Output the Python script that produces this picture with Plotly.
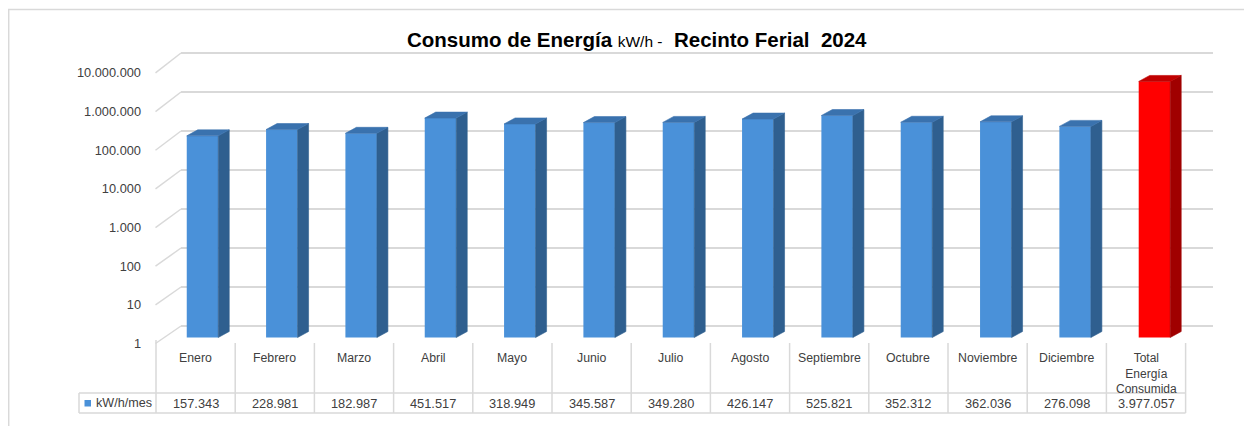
import plotly.graph_objects as go

# ---------------- data ----------------
categories = ["Enero", "Febrero", "Marzo", "Abril", "Mayo", "Junio", "Julio",
              "Agosto", "Septiembre", "Octubre", "Noviembre", "Diciembre",
              "Total Energía Consumida"]
values = [157343, 228981, 182987, 451517, 318949, 345587, 349280,
          426147, 525821, 352312, 362036, 276098, 3977057]
series_name = "kW/h/mes"
tick_values = [1, 10, 100, 1000, 10000, 100000, 1000000, 10000000]
title_main = "Consumo de Energía"
title_unit = "kW/h -"
title_rest = "Recinto Ferial\u00a0 2024"

# ---------------- styling / layout helpers ----------------
OFF = 8                       # page body margin
W, H = 1252 - OFF, 426 - OFF  # figure size
FONT = "Liberation Sans, Arial, sans-serif"
TXT = "#404040"
GRID = "#D9D9D9"
BLUE = dict(front="#4A91D9", side="#2F5F8F", top="#3A72AE")
RED = dict(front="#FF0000", side="#A00000", top="#C00000")


def fx(p):
    return (p - OFF) / W


def fy(p):
    return 1 - (p - OFF) / H


def fmt(v):
    return f"{v:,}".replace(",", ".")


PT, PB = 48, 346                 # plot area top / bottom (screen px)
BACK_B, BACK_S = 326.0, 39.0     # back wall: pixel of value 1, px per decade
BAR_B, BAR_S = 337.5, 38.8       # bar plane
FRONT_B, FRONT_S = 343.5, 38.65  # front plane (labels)
BAR0, STEP = 202.5, 79.33        # centre of first bar front, spacing
X2L, X2R = 100, 1240
BAR_W = 31.5 / STEP
DX = 11 / STEP
K = 10 ** (6.0 / BAR_S)

n = len(categories)
idx = list(range(n))
palettes = [BLUE] * (n - 1) + [RED]

fig = go.Figure()

# grid subplot (back wall) -> invisible anchor trace
fig.add_trace(go.Scatter(x=[0.5], y=[1], xaxis="x", yaxis="y", mode="markers",
                         marker=dict(opacity=0), hoverinfo="skip", showlegend=False))

# bars (front faces)
fig.add_trace(go.Bar(x=idx, y=values, base=[1] * n, width=BAR_W,
                     marker=dict(color=[p["front"] for p in palettes], line=dict(width=0)),
                     customdata=categories, hovertemplate="%{customdata}: %{y:,}<extra></extra>",
                     xaxis="x2", yaxis="y2", showlegend=False))

# 3D side and top faces computed from the data
for part in ("side", "top"):
    for pal in (BLUE, RED):
        xs, ys = [], []
        for i, v in enumerate(values):
            if palettes[i] is not pal:
                continue
            xl, xr = i - BAR_W / 2, i + BAR_W / 2
            if part == "side":
                xs += [xr, xr + DX, xr + DX, xr, xr, None]
                ys += [1, K, v * K, v, 1, None]
            else:
                xs += [xl, xl + DX, xr + DX, xr, xl, None]
                ys += [v, v * K, v * K, v, v, None]
        fig.add_trace(go.Scatter(x=xs, y=ys, mode="lines", fill="toself",
                                 fillcolor=pal[part], line=dict(color=pal[part], width=0.6),
                                 hoverinfo="skip", showlegend=False,
                                 xaxis="x2", yaxis="y2"))

# front label axis anchor trace
fig.add_trace(go.Scatter(x=[0], y=[1], xaxis="x2", yaxis="y3", mode="markers",
                         marker=dict(opacity=0), hoverinfo="skip", showlegend=False))


def rng(b, s):
    return [(b - PB) / s, (b - PT) / s]


ydom = [fy(PB), fy(PT)]
hidden_x = dict(showgrid=False, zeroline=False, showticklabels=False, showline=False, ticks="")

fig.update_layout(
    width=W, height=H,
    margin=dict(l=0, r=0, t=0, b=0, autoexpand=False),
    paper_bgcolor="white", plot_bgcolor="rgba(0,0,0,0)",
    showlegend=False,
    xaxis=dict(domain=[fx(181), fx(1213)], range=[0, 1], anchor="y", **hidden_x),
    yaxis=dict(domain=ydom, type="log", range=rng(BACK_B, BACK_S), anchor="x",
               tickvals=tick_values, showticklabels=False, showgrid=True,
               gridcolor=GRID, gridwidth=1.5, zeroline=False, showline=False, ticks=""),
    xaxis2=dict(domain=[fx(X2L), fx(X2R)],
                range=[(X2L - BAR0) / STEP, (X2R - BAR0) / STEP], anchor="y2", **hidden_x),
    yaxis2=dict(domain=ydom, type="log", range=rng(BAR_B, BAR_S), anchor="x2",
                showgrid=False, zeroline=False, showticklabels=False, showline=False, ticks=""),
    yaxis3=dict(type="log", range=rng(FRONT_B, FRONT_S), overlaying="y2", anchor="free",
                position=fx(141), side="left", tickvals=tick_values,
                ticktext=[fmt(v) for v in tick_values], showgrid=False, zeroline=False,
                showline=False, ticks="", tickfont=dict(family=FONT, size=12.8, color=TXT)),
)

shapes = []
# outer border
shapes.append(dict(type="rect", xref="paper", yref="paper", x0=fx(8.7), x1=fx(1250.3),
                   y0=fy(440), y1=fy(9.5), line=dict(color=GRID, width=1.5), layer="below"))
# left diagonal depth lines for each decade
for k in range(len(tick_values)):
    yf = FRONT_B - FRONT_S * k
    yb = BACK_B - BACK_S * k
    shapes.append(dict(type="line", xref="paper", yref="paper", x0=fx(155.5), y0=fy(yf),
                       x1=fx(181), y1=fy(yb), line=dict(color=GRID, width=1.5), layer="below"))

# data table
COL0, COLW = 156, 79.2
TAB_L, ROW_TOP, ROW_MID, ROW_BOT = 79, 343, 393, 413
for k in range(n + 1):
    xk = COL0 + k * COLW
    shapes.append(dict(type="line", xref="paper", yref="paper", x0=fx(xk), x1=fx(xk),
                       y0=fy(ROW_BOT), y1=fy(ROW_TOP - (3 if k == 0 else 0)),
                       line=dict(color=GRID, width=1.5)))
shapes.append(dict(type="line", xref="paper", yref="paper", x0=fx(TAB_L), x1=fx(TAB_L),
                   y0=fy(ROW_BOT), y1=fy(ROW_MID), line=dict(color=GRID, width=1.5)))
for yy in (ROW_MID, ROW_BOT):
    shapes.append(dict(type="line", xref="paper", yref="paper", x0=fx(TAB_L),
                       x1=fx(COL0 + n * COLW), y0=fy(yy), y1=fy(yy),
                       line=dict(color=GRID, width=1.5)))
# legend key square
shapes.append(dict(type="rect", xref="paper", yref="paper", x0=fx(84.5), x1=fx(91),
                   y0=fy(406.5), y1=fy(400), fillcolor=BLUE["front"], line=dict(width=0)))

annotations = []
for k, (c, v) in enumerate(zip(categories, values)):
    xc = fx(COL0 + (k + 0.5) * COLW)
    multi = len(c) > 12
    label = c.replace(" ", "<br>") if multi else c
    annotations.append(dict(x=xc, y=fy(348.5 if multi else 349), xref="paper", yref="paper",
                            text=label, showarrow=False, xanchor="center", yanchor="top",
                            font=dict(family=FONT, size=12.0 if multi else 12.3, color=TXT)))
    annotations.append(dict(x=xc, y=fy(403.3), xref="paper", yref="paper", text=fmt(v),
                            showarrow=False, xanchor="center", yanchor="middle",
                            font=dict(family=FONT, size=12.8, color=TXT)))
annotations.append(dict(x=fx(94), y=fy(403.3), xref="paper", yref="paper", text=series_name,
                        showarrow=False, xanchor="left", yanchor="middle",
                        font=dict(family=FONT, size=12.6, color=TXT)))
# title
annotations.append(dict(x=fx(637), y=fy(40), xref="paper", yref="paper",
                        text=f"<b>{title_main}</b> <span style='font-size:15.5px'>{title_unit}</span>\u00a0 <b>{title_rest}</b>",
                        showarrow=False, xanchor="center", yanchor="middle",
                        font=dict(family=FONT, size=20.5, color="#000000")))

fig.update_layout(shapes=shapes, annotations=annotations)
fig.write_html("out.html")
